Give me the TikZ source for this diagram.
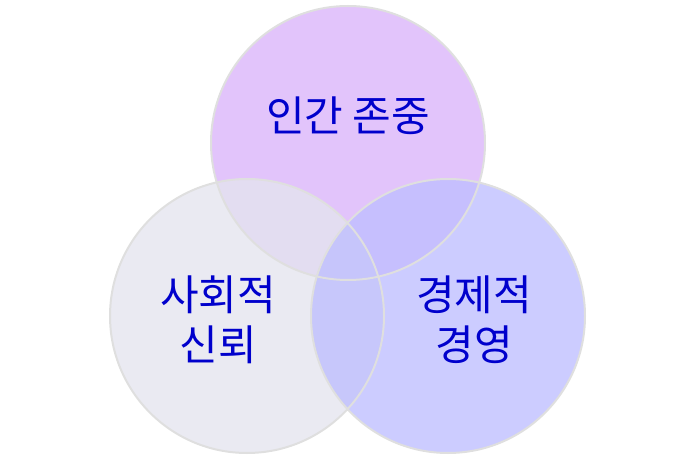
\documentclass[tikz,border=0pt]{standalone}
\usepackage{fontspec}
\newfontfamily\kr{Noto Sans CJK KR}
\begin{document}
\begin{tikzpicture}[x=1pt,y=-1pt,
  circ/.style={fill opacity=0.78},
  lbl/.style={font=\kr\fontsize{42}{50}\selectfont,text=blue!80!black,align=center}]
\useasboundingbox (0,0) rectangle (694,462);
\fill[circ,fill={rgb,255:red,218;green,180;blue,250}] (348,143) circle (137);
\fill[circ,fill={rgb,255:red,228;green,228;blue,238}] (247,316) circle (137);
\fill[circ,fill={rgb,255:red,190;green,190;blue,255}] (448,316) circle (137);
\draw[white!75!gray,line width=2pt] (348,143) circle (137) (247,316) circle (137) (448,316) circle (137);
\node[lbl] (a) at (348,116) {인간 존중};
\node[lbl] (b) at (218,320) {사회적\\신뢰};
\node[lbl] (c) at (474,320) {경제적\\경영};
\end{tikzpicture}
\end{document}
